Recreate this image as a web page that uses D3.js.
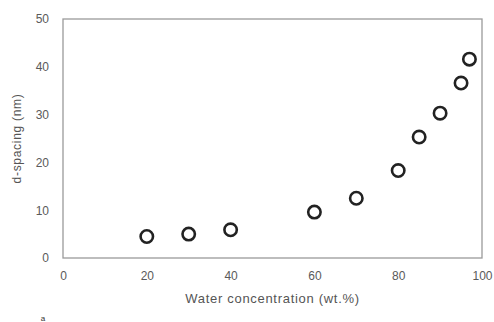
<!DOCTYPE html>
<html>
<head>
<meta charset="utf-8">
<script src="https://cdn.jsdelivr.net/npm/d3@7"></script>
<style>
  body { margin: 0; background: #fff; }
  svg { display: block; }
</style>
</head>
<body>
<script>
'use strict'

// water concentration (wt.%) vs d-spacing (nm)
const water = [20, 30, 40, 60, 70, 80, 85, 90, 95, 97]
const dSpacing = [4.5, 5.0, 5.9, 9.6, 12.5, 18.3, 25.3, 30.3, 36.6, 41.6]
const xTicks = [0, 20, 40, 60, 80, 100]
const yTicks = [0, 10, 20, 30, 40, 50]

const width = 494, height = 322
const margin = { top: 19, right: 12, bottom: 64, left: 63 }
const font = "Liberation Sans, Arial, sans-serif"

const svg = d3.select("body").append("svg")
    .attr("width", width)
    .attr("height", height)

const x = d3.scaleLinear().domain([0, 100]).range([margin.left, width - margin.right])
const y = d3.scaleLinear().domain([0, 50]).range([height - margin.bottom, margin.top])

// plot frame
svg.append("rect")
    .attr("x", x(0))
    .attr("y", y(50))
    .attr("width", x(100) - x(0))
    .attr("height", y(0) - y(50))
    .attr("fill", "none")
    .attr("stroke", "#9a9a9a")
    .attr("stroke-width", 1.3)

const xAxis = svg.append("g")
    .attr("transform", `translate(0,${y(0)})`)
    .call(d3.axisBottom(x).tickValues(xTicks).tickSize(0).tickPadding(13))
const yAxis = svg.append("g")
    .attr("transform", `translate(${x(0)},0)`)
    .call(d3.axisLeft(y).tickValues(yTicks).tickSize(0).tickPadding(14))

;[xAxis, yAxis].forEach(g => {
    g.select(".domain").remove()
    g.selectAll("text")
        .attr("fill", "#5a5a5a")
        .style("font-family", font)
        .style("font-size", "12px")
})

// axis titles
svg.append("text")
    .attr("x", (x(0) + x(100)) / 2)
    .attr("y", 303)
    .attr("text-anchor", "middle")
    .attr("fill", "#555")
    .style("font-family", font)
    .style("font-size", "13px")
    .style("letter-spacing", "0.7px")
    .text("Water concentration (wt.%)")

svg.append("text")
    .attr("transform", `translate(21,${(y(0) + y(50)) / 2}) rotate(-90)`)
    .attr("text-anchor", "middle")
    .attr("fill", "#555")
    .style("font-family", font)
    .style("font-size", "12px")
    .style("letter-spacing", "0.7px")
    .text("d-spacing (nm)")

// markers
svg.append("g")
    .selectAll("circle")
    .data(water.map((w, i) => ({ w, d: dSpacing[i] })))
    .enter()
    .append("circle")
    .attr("cx", d => x(d.w))
    .attr("cy", d => y(d.d))
    .attr("r", 6.2)
    .attr("fill", "none")
    .attr("stroke", "#222")
    .attr("stroke-width", 2.6)

// small glyph at the bottom edge
svg.append("text")
    .attr("x", 43)
    .attr("y", 321)
    .attr("text-anchor", "middle")
    .attr("fill", "#333")
    .style("font-family", font)
    .style("font-size", "8px")
    .text("a")
</script>
</body>
</html>
